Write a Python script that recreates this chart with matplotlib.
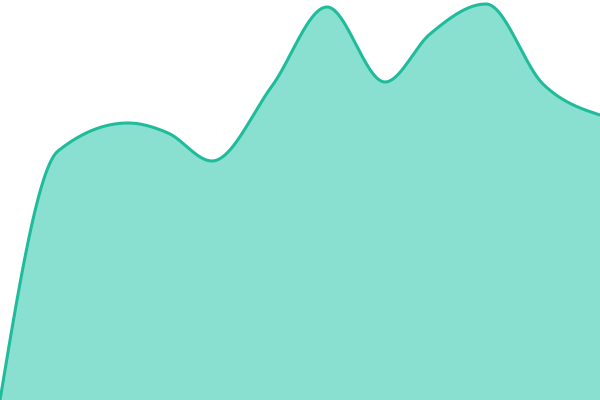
import numpy as np
import matplotlib
matplotlib.use("Agg")
import matplotlib.pyplot as plt

# data
x_pos = [0, 58, 128, 168, 212, 272, 327, 385, 430, 486, 543, 600]
values = [0, 249, 277, 267, 239, 314, 393, 318, 366, 396, 316, 285]

FILL = "#8ae0d0"
LINE = "#1fbc9c"


def monotone_x(xs, ys, n=60):
    xs = np.asarray(xs, float)
    ys = np.asarray(ys, float)
    h = np.diff(xs)
    s = np.diff(ys) / h
    m = np.zeros(len(xs))
    for i in range(1, len(xs) - 1):
        s0, s1 = s[i - 1], s[i]
        p = (s0 * h[i] + s1 * h[i - 1]) / (h[i - 1] + h[i])
        m[i] = (np.sign(s0) + np.sign(s1)) * min(abs(s0), abs(s1), 0.5 * abs(p))
    m[0] = (3 * s[0] - m[1]) / 2
    m[-1] = (3 * s[-1] - m[-2]) / 2
    ox, oy = [], []
    t = np.linspace(0, 1, n, endpoint=False)
    for i in range(len(xs) - 1):
        h00 = 2 * t ** 3 - 3 * t ** 2 + 1
        h10 = t ** 3 - 2 * t ** 2 + t
        h01 = -2 * t ** 3 + 3 * t ** 2
        h11 = t ** 3 - t ** 2
        ox.extend(xs[i] + t * h[i])
        oy.extend(h00 * ys[i] + h10 * h[i] * m[i] + h01 * ys[i + 1] + h11 * h[i] * m[i + 1])
    ox.append(xs[-1])
    oy.append(ys[-1])
    return np.array(ox), np.array(oy)


sx, sy = monotone_x(x_pos, values)

fig = plt.figure(figsize=(6, 4), dpi=100)
ax = fig.add_axes([0, 0, 1, 1])
ax.fill_between(sx, 0, sy, color=FILL, linewidth=0)
ax.plot(sx, sy, color=LINE, linewidth=2.2, solid_capstyle="round")
ax.set_xlim(0, 600)
ax.set_ylim(0, 400)
ax.axis("off")
fig.savefig("out.png", dpi=100)
